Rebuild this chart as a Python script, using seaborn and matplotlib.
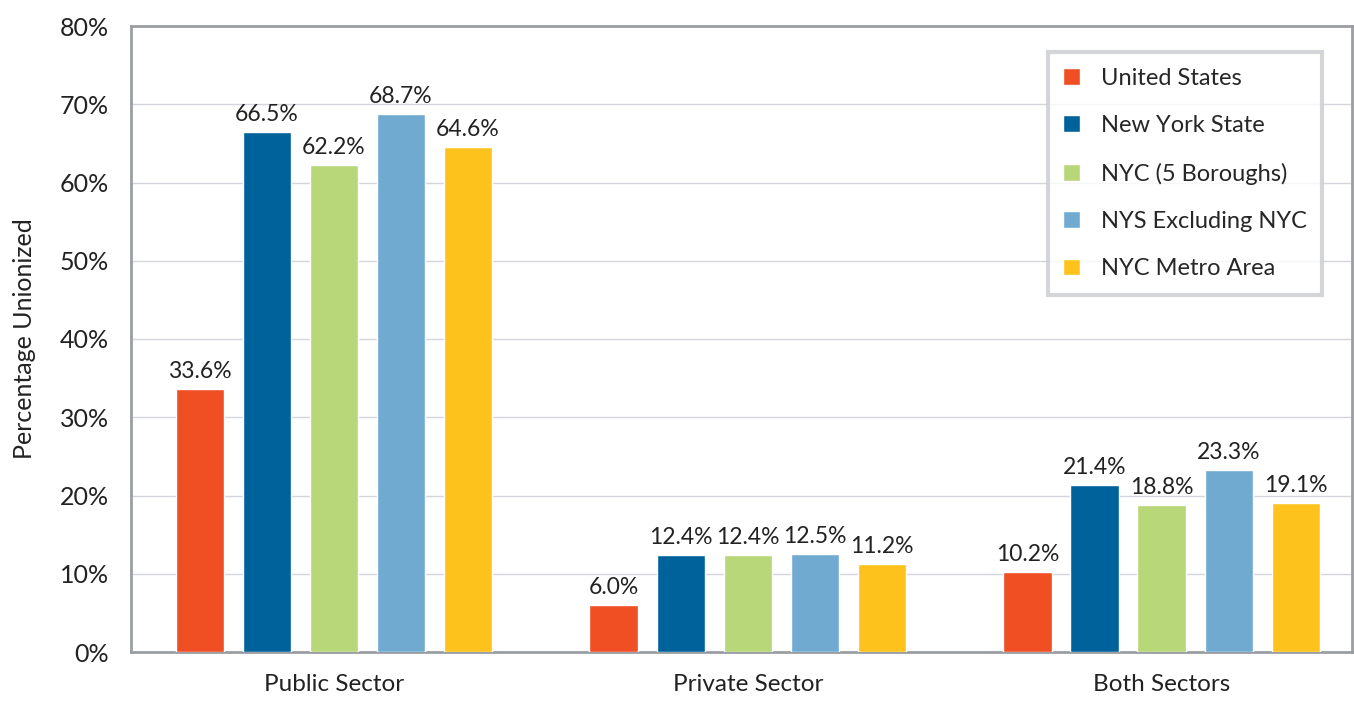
import numpy as np
import pandas as pd
import matplotlib
matplotlib.use('Agg')
import matplotlib.pyplot as plt
import seaborn as sns
from matplotlib.ticker import PercentFormatter

# ============================
# data
# ============================
sectors = ['Public Sector', 'Private Sector', 'Both Sectors']
regions = ['United States', 'New York State', 'NYC (5 Boroughs)',
           'NYS Excluding NYC', 'NYC Metro Area']
united_states = [33.6, 6.0, 10.2]
new_york_state = [66.5, 12.4, 21.4]
nyc_boroughs = [62.2, 12.4, 18.8]
nys_excl_nyc = [68.7, 12.5, 23.3]
nyc_metro = [64.6, 11.2, 19.1]
y_ticks = [0, 10, 20, 30, 40, 50, 60, 70, 80]

colors = ['#f04e23', '#00629b', '#b8d779', '#71aad1', '#fdc31c']

series = [united_states, new_york_state, nyc_boroughs, nys_excl_nyc, nyc_metro]
rows = []
for reg, vals in zip(regions, series):
    for sec, v in zip(sectors, vals):
        rows.append({'sector': sec, 'region': reg, 'value': v})
df = pd.DataFrame(rows)

# ============================
# plot
# ============================
sns.set_style('white')
plt.rcParams['font.family'] = ['Lato', 'DejaVu Sans']

fig = plt.figure(figsize=(13.54, 7.01), dpi=100)
ax = fig.add_axes([131 / 1354, 49 / 701, 1221 / 1354, 626 / 701])

sns.barplot(data=df, x='sector', y='value', hue='region', order=sectors,
            hue_order=regions, palette=colors, width=0.81, gap=0.28,
            saturation=1, ax=ax, zorder=3)

for cont in ax.containers:
    ax.bar_label(cont, fmt='%.1f%%', padding=5, fontsize=16.5, color='#222222')

ax.set_ylim(0, 80)
ax.set_xlim(-0.49, 2.46)
ax.set_yticks(y_ticks)
ax.yaxis.set_major_formatter(PercentFormatter(decimals=0))
ax.grid(axis='y', color='#d3d6dc', linewidth=1, zorder=0)
ax.set_axisbelow(True)
for sp in ax.spines.values():
    sp.set_visible(True)
    sp.set_color('#9a9ea3')
    sp.set_linewidth(2)

ax.tick_params(axis='y', labelsize=18, colors='#222222', length=0, pad=16)
ax.tick_params(axis='x', labelsize=17.5, colors='#222222', length=0, pad=16)
ax.set_xlabel('')
ax.set_ylabel('Percentage Unionized', fontsize=18, color='#222222', labelpad=17)

leg = ax.legend(loc='upper right', bbox_to_anchor=(0.9855, 0.977), fontsize=17,
                frameon=True, fancybox=False, handlelength=0.7, handleheight=0.7,
                labelspacing=1.12, borderpad=0.65, handletextpad=0.9,
                edgecolor='#c8cbd0', title=None)
leg.get_frame().set_linewidth(3)

fig.savefig('out.png', dpi=100)
